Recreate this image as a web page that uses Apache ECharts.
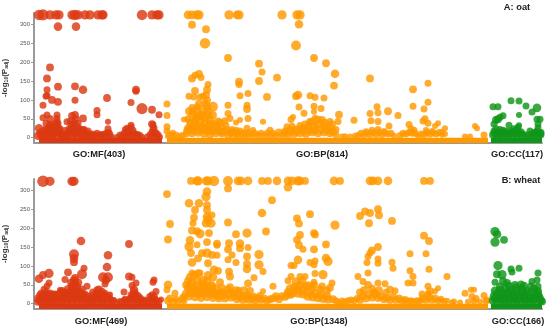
<!DOCTYPE html>
<html><head><meta charset="utf-8">
<style>html,body{margin:0;padding:0;background:#fff}#c{width:550px;height:331px}</style>
<script src="https://cdn.jsdelivr.net/npm/echarts@6/dist/echarts.min.js"></script></head>
<body><div id="c"></div>
<script>
// each point: [term rank along the axis, -log10(Padj), relative term size]
const yTicks=[0,50,100,150,200,250,300];
const oatLabels=['GO:MF(403)','GO:BP(814)','GO:CC(117)','A: oat'];
const wheatLabels=['GO:MF(469)','GO:BP(1348)','GO:CC(166)','B: wheat'];
const oatMF=[[39,325,9],[43,325,10],[50,325,7],[56,325,7],[59,325,7],[72,325,7],[75,325,9],[78,325,7],[85,325,7],[90,325,7],[98,325,7],[102,325,7],[103,325,7],[142,325,9],[152,325,7],[157,325,7],[159,325,7],
[58,294,6],[76,294,6],[50,186,5],[47,157,5],[58,135,5],[75,136,5],[83,127,6],[47,127,4],[47,112,4],[46,110,4],[52,100,5],[58,95,5],[75,99,4],[43,86,4],[107,105,5],[97,72,4],[97,61,4],[108,42,3],[136,127,5],[136,123,4],[131,93,4],[142,77,10],[152,74,5],[159,61,4],[152,36,5],[153,34,4],
[43,53,4],[47,60,4],[50,50,5],[57,60,4],[57,51,4],[72,58,5],[75,60,5],[83,51,5],[67,42,4],
[38,5,6],[42,3,4],[47,4,4],[52,5,4],[57,4,6],[62,3,4],[67,5,4],[72,4,4],[77,5,6],[82,3,4],[87,5,4],[92,3,4],[97,4,4],[102,3,4],[107,4,4],[112,2,3],[117,2,3],[122,4,4],[127,5,4],[132,4,4],[137,5,4],[142,2,3],[147,3,3],[152,5,4],[157,4,4],[160,2,3],
[40,14,4],[45,12,4],[50,15,6],[54,12,4],[58,14,6],[63,10,4],[68,14,4],[73,15,6],[78,13,4],[83,15,4],[87,12,4],[92,11,3],[97,12,4],[102,10,3],[106,12,4],[109,14,4],[124,12,4],[129,14,4],[134,12,4],[138,10,3],[152,15,4],[156,13,4],
[39,25,6],[46,24,4],[49,28,4],[52,26,4],[57,30,6],[60,24,4],[69,24,4],[73,28,4],[76,30,6],[80,24,4],[84,22,4],[108,24,4],[127,25,4],[131,28,4],[125,22,3],[153,22,4],
[46,38,4],[50,36,3],[55,38,4],[57,42,4],[74,40,4],[78,38,4],[71,35,4],[131,33,4],
[41,8,5],[45,8,5],[49,10,5],[53,8,5],[55,20,5],[59,20,5],[61,9,5],[65,8,5],[69,9,5],[71,20,5],[75,10,5],[79,20,5],[81,9,5],[85,9,5],[89,7,4],[94,8,4],[100,8,4],[104,7,4],[110,8,4],[120,7,4],[125,8,4],[130,8,4],[135,9,4],[140,6,4],[150,8,4],[155,9,4],[158,8,4],[43,18,5],[47,20,5],[51,22,5],[65,18,5],[75,22,5],[83,20,5],[88,18,4],[128,18,4],[133,20,4],[154,26,4],[50,32,5],[55,30,5],[71,44,5],[76,50,4],[58,38,4]];
const oatBP=[[188,325,6],[192,325,6],[197,325,7],[199,325,7],[229,325,7],[237,325,6],[239,325,7],[282,325,7],[297,325,7],[300,325,7],
[192,299,5],[206,287,5],[205,250,9],[299,300,6],[296,244,8],[228,211,5],[259,196,5],[262,174,4],[259,150,5],[277,159,5],[314,211,5],[326,197,5],[335,169,6],[334,138,5],[370,157,5],[428,144,4],[413,128,5],[428,94,4],[413,83,4],[424,76,4],[388,70,5],[398,59,4],[377,82,4],[378,66,4],[370,64,4],[371,45,4],[378,43,4],[389,31,4],[409,35,4],[425,50,4],[423,44,4],[428,38,4],[438,38,3],[435,31,3],[445,25,3],[442,16,3],[475,31,3],[477,25,3],[465,3,3],[470,3,3],[484,7,4],
[298,113,6],[296,110,5],[310,111,4],[315,107,4],[324,105,4],[299,81,4],[314,83,4],[321,77,4],[339,61,5],[354,46,4],[304,65,4],[293,55,3],[291,48,4],[314,69,3],[315,53,3],[310,42,5],[322,47,5],[330,43,4],[338,43,4],[287,29,4],
[167,89,4],[167,59,4],[167,29,4],[167,18,4],[173,13,3],[184,48,3],[192,157,5],[195,165,4],[199,169,5],[201,159,4],[208,141,4],[207,127,5],[206,113,5],[195,124,5],[189,110,4],[194,108,4],[200,108,4],[207,99,5],[192,80,4],[197,82,4],[213,82,8],[207,82,5],[202,72,5],[192,60,5],[197,55,5],[202,60,5],[208,60,5],[210,38,5],[218,43,5],[228,86,4],[228,64,4],[230,51,4],[239,148,5],[239,141,4],[240,111,4],[248,117,4],[247,86,4],[247,76,5],[248,51,4],[240,47,3],[236,40,3],[263,42,3],[247,25,4],[253,20,3],[270,20,4],[267,108,5],
[188,50,4],[190,40,5],[195,42,5],[200,45,5],[205,40,5],[212,30,5],[217,28,5],[192,28,5],[198,30,5],[204,25,5],[188,25,5],[208,18,5],[222,28,4],[226,32,4],[232,22,4],[236,20,4],[240,18,4],
[168,4,3],[174,4,3],[180,3,3],[186,10,4],[192,12,5],[198,13,5],[204,10,5],[210,8,5],[216,12,5],[222,10,4],[228,8,5],[234,6,5],[240,6,5],[246,8,5],[252,8,4],[258,6,4],[264,6,4],[270,6,4],[276,6,4],[282,8,4],[288,8,5],[294,10,5],[300,12,5],[306,10,5],[312,14,5],[318,12,5],[324,14,5],[330,12,5],[336,8,4],[342,3,3],[350,3,3],[358,6,4],[364,7,4],[370,8,4],[376,8,4],[382,8,4],[388,10,4],[394,5,3],[400,6,4],[406,10,4],[412,12,4],[418,5,3],[424,8,4],[430,9,4],[436,10,4],[442,8,3],
[285,18,4],[290,20,5],[296,22,5],[302,24,5],[308,28,6],[314,30,6],[318,36,5],[324,30,5],[330,26,5],[336,22,4],[292,30,4],[300,32,4],[372,20,4],[378,22,4],[366,16,4],[384,18,3],[411,24,4],[414,20,4],[426,20,3],[432,18,3],
[170,8,4],[176,7,4],[182,6,4],[187,18,5],[190,24,5],[193,20,6],[196,30,6],[199,20,6],[202,28,6],[205,20,6],[208,28,6],[211,20,6],[214,18,5],[218,20,5],[220,16,5],[224,16,5],[227,20,5],[230,14,5],[233,14,5],[237,12,5],[243,12,5],[249,12,5],[255,12,4],[261,12,4],[267,12,4],[273,12,4],[279,14,5],[285,12,5],[291,16,5],[297,16,6],[303,18,6],[309,20,6],[315,20,6],[321,22,6],[327,20,6],[333,16,5],[345,4,3],[355,5,3],[361,12,4],[367,12,4],[373,14,4],[379,14,4],[385,13,4],[391,12,4],[403,12,4],[409,14,4],[415,12,4],[421,10,4],[427,14,4],[433,14,4],[439,14,4],[445,10,3],[189,70,5],[193,70,5],[197,72,5],[199,90,5],[205,90,5],[208,70,5],[213,60,5],[203,110,4],[191,38,5],[196,50,6],[200,58,6],[205,52,6],[210,48,6],[215,35,5],[220,40,5],[225,45,4],[305,35,5],[312,42,6],[318,48,5],[325,40,5],[332,35,5]];
const oatCC=[[493,82,4],[498,82,4],[511,98,4],[519,97,4],[526,84,4],[537,79,6],[532,68,4],[519,60,3],[503,58,4],[500,54,4],[496,47,5],[498,49,5],[540,49,4],[537,49,4],[538,36,4],[494,36,4],[509,33,4],[519,33,3],[503,20,4],
[493,8,5],[497,5,5],[501,8,5],[505,6,5],[509,8,5],[513,5,5],[517,7,5],[521,7,5],[525,5,3],[530,4,3],[534,7,5],[538,5,5],[541,8,4],
[494,18,4],[498,14,4],[507,17,4],[512,18,4],[517,20,5],[521,16,4],[534,14,4],[537,18,4],[541,14,4],
[495,12,5],[499,10,5],[503,12,5],[507,11,5],[511,12,5],[515,12,5],[519,12,5],[523,10,4],[532,10,4],[536,11,5],[540,11,5],[496,24,4],[504,14,5],[500,22,4],[514,24,4],[518,28,4],[530,18,4],[538,26,4],[528,8,4]];
const wheatMF=[[43,324,11],[50,324,7],[72,324,7],[74,324,7],
[81,166,6],[129,158,5],[74,131,8],[74,120,6],[74,110,5],[108,128,6],[107,97,6],[84,94,4],[82,78,8],[68,83,5],[49,80,7],[43,76,5],[39,66,6],[65,64,4],[49,55,4],[47,46,4],[103,70,8],[108,70,8],[106,62,5],[105,52,4],[129,72,5],[132,70,4],[136,55,4],[132,48,4],[134,37,6],[124,31,4],[154,63,4],[153,57,4],[156,32,4],[161,11,3],[75,68,5],[75,55,5],[72,45,5],[87,46,4],[97,37,4],[102,33,4],
[38,5,5],[42,4,5],[47,5,6],[52,4,5],[57,6,5],[62,4,5],[67,6,6],[72,5,6],[77,6,6],[82,5,5],[87,5,5],[92,4,5],[97,6,5],[102,5,5],[107,6,5],[112,4,4],[117,3,3],[122,4,4],[127,5,4],[132,6,5],[137,6,5],[142,5,5],[147,3,4],[152,5,5],[157,5,4],
[38,14,5],[42,16,5],[47,14,6],[51,18,5],[55,16,5],[60,15,5],[65,17,6],[70,16,6],[75,18,6],[80,16,6],[85,14,5],[90,13,5],[95,16,5],[100,14,5],[105,16,5],[110,14,4],[114,10,3],[125,12,4],[130,14,4],[135,15,6],[140,14,5],[144,10,4],[152,14,5],[155,12,4],
[41,28,4],[46,30,5],[50,27,5],[55,26,4],[60,28,5],[64,30,5],[69,30,5],[72,34,6],[76,38,6],[80,30,6],[85,26,4],[96,28,4],[100,26,4],[105,28,4],[110,24,3],[131,24,4],[136,26,4],[152,24,4],
[44,38,4],[60,36,3],[71,56,5],[77,46,5],[74,32,5],
[40,9,6],[44,9,6],[49,10,6],[53,10,6],[58,10,6],[63,10,6],[68,11,6],[73,11,6],[78,12,6],[83,11,6],[88,10,6],[93,10,6],[98,11,6],[103,10,6],[108,10,5],[113,7,4],[120,6,4],[125,8,5],[130,10,5],[135,10,5],[140,9,5],[145,7,4],[150,9,5],[155,9,5],[159,6,4],[40,22,5],[44,24,5],[49,22,6],[53,24,5],[58,22,6],[62,22,6],[67,24,6],[72,24,6],[77,28,6],[82,24,6],[87,20,5],[92,20,5],[98,22,6],[103,22,6],[108,20,5],[133,20,5],[138,20,5],[150,18,5],[154,18,5],[68,38,6],[73,46,6],[78,56,6],[74,62,6],[82,38,5],[62,34,5],[93,30,5],[99,38,5],[134,30,5]];
const wheatBP=[[191,325,5],[197,325,6],[198,325,7],[206,325,6],[208,325,7],[214,325,9],[228,325,8],[238,325,6],[241,325,6],[248,325,6],[262,325,5],[268,325,5],[277,325,6],[288,325,6],[292,325,6],[298,325,7],[300,325,6],[305,325,5],[334,325,6],[340,325,5],[370,325,6],[373,325,6],[378,325,6],[388,325,6],[424,325,5],[430,325,5],
[167,290,5],[170,211,5],[168,170,5],[228,305,5],[207,297,6],[206,283,7],[189,266,6],[199,266,6],[207,261,5],[195,248,5],[207,248,5],[212,235,4],[194,228,5],[207,230,6],[193,213,4],[208,222,7],[206,213,6],[211,213,7],[192,194,5],[197,192,5],[200,185,7],[209,187,5],[228,215,5],[262,240,6],[272,274,5],[266,191,5],[247,187,7],[236,184,5],[190,168,6],[189,151,7],[197,156,4],[207,163,5],[217,159,5],[217,155,4],[191,134,5],[217,128,4],[229,160,5],[228,144,5],[240,159,6],[240,147,5],[248,149,4],[247,125,5],[259,130,7],[259,103,7],[232,129,4],[228,116,4],[236,109,4],[247,105,5],[247,92,6],[263,85,4],[229,85,5],[230,72,5],[254,69,4],[248,54,5],[239,37,3],[263,33,3],[273,46,4],[220,57,5],[202,134,5],[207,134,7],[212,129,5],[192,109,6],[198,120,5],[208,107,5],[218,87,5],[214,90,6],[192,81,4],[200,81,4],[168,50,6],[167,37,4],[175,28,4],[183,18,4],
[288,308,6],[310,237,5],[297,226,5],[299,212,5],[335,208,7],[300,182,5],[297,169,5],[299,155,5],[303,144,4],[314,187,5],[315,183,5],[326,157,5],[314,144,5],[298,116,6],[291,101,4],[294,101,4],[310,109,4],[315,113,4],[314,103,4],[326,121,6],[328,112,7],[315,80,4],[323,77,7],[291,72,4],[300,72,4],[305,72,4],[288,61,4],[314,57,4],[332,55,4],[360,232,5],[365,244,5],[370,240,5],[378,250,5],[379,234,5],[369,213,5],[392,219,5],[424,180,5],[429,166,5],[378,150,5],[372,141,5],[370,134,4],[368,125,4],[378,118,4],[378,107,4],[367,109,4],[392,110,4],[393,94,4],[410,132,4],[426,132,4],[429,91,4],[410,87,4],[413,72,4],[368,81,4],[358,72,4],[363,59,4],[447,72,4],[408,55,4],[413,55,4],[378,55,4],[385,53,4],[395,34,4],[390,37,5],[428,46,4],[430,33,5],[438,41,3],[435,33,3],[465,28,4],[471,37,3],[474,37,3],[472,19,4],[476,14,4],[484,22,4],[487,10,4],[454,6,3],
[188,60,5],[192,55,6],[197,62,6],[202,50,6],[207,60,6],[212,48,6],[188,42,6],[194,40,6],[200,36,6],[206,42,6],[212,34,6],[217,28,5],[222,30,5],[228,38,5],[233,30,5],[238,26,5],[243,22,4],[248,24,4],[254,20,4],[260,22,4],
[168,8,5],[173,6,4],[178,5,4],[184,8,4],[189,20,6],[195,18,6],[201,16,6],[207,18,6],[213,16,6],[219,14,5],[225,14,5],[231,16,5],[237,12,5],[243,10,5],[249,10,5],[255,8,5],[261,10,5],[267,8,5],[273,14,5],[279,12,5],[285,18,5],[291,24,5],[297,38,7],[303,36,7],[309,30,7],[315,28,6],[321,24,6],[327,20,6],[333,12,5],[339,4,3],[345,5,4],[351,10,4],[357,14,4],[363,20,5],[369,24,6],[375,26,6],[381,20,5],[387,16,5],[393,18,5],[399,14,5],[405,10,5],[411,8,4],[417,8,4],[423,14,5],[429,18,5],[435,14,5],[441,12,4],[447,8,3],[452,3,3],[460,3,3],[468,5,3],[474,7,4],[480,5,3],[486,7,4],
[288,30,6],[294,45,5],[300,50,5],[306,46,5],[312,40,5],[320,38,5],[327,35,5],[364,36,5],[372,40,5],[379,36,5],[386,30,4],[422,26,4],[428,26,4],
[170,14,5],[176,12,4],[182,12,4],[186,26,6],[190,30,6],[194,30,7],[198,28,7],[202,30,7],[206,30,7],[210,28,7],[214,26,6],[219,22,6],[224,24,6],[229,26,6],[234,22,6],[240,18,6],[246,16,6],[252,14,5],[258,15,5],[264,14,5],[270,12,5],[276,20,5],[282,20,5],[288,24,6],[293,30,7],[298,28,7],[303,26,7],[308,20,7],[313,18,7],[318,16,7],[323,14,7],[328,12,6],[336,8,4],[342,7,4],[348,8,4],[354,8,4],[360,10,5],[366,14,5],[372,16,5],[378,16,6],[384,12,5],[390,10,5],[396,10,5],[402,8,5],[408,7,4],[414,6,4],[420,8,4],[426,10,5],[432,10,5],[438,8,4],[444,6,4],[190,70,6],[194,75,6],[198,80,6],[203,62,6],[208,75,6],[213,70,6],[186,50,5],[192,44,7],[199,46,7],[205,46,7],[211,44,7],[216,40,6],[222,42,5],[230,44,5],[236,36,5],[244,36,5],[250,34,5],[290,40,6],[296,58,6],[302,60,6],[308,48,6],[314,50,5],[322,46,5],[330,42,5],[360,30,5],[368,50,5],[374,30,5]];
const wheatCC=[[495,191,7],[497,184,6],[495,163,7],[504,169,5],[498,101,7],[511,92,4],[512,84,4],[519,94,4],[497,78,5],[502,77,7],[538,81,4],[537,63,4],[532,59,4],[495,57,4],[507,55,5],[521,50,6],[538,46,4],[542,6,5],
[493,8,6],[497,6,6],[501,8,6],[505,6,6],[509,8,6],[513,6,6],[517,8,6],[521,6,6],[525,8,6],[529,6,6],[533,8,6],[537,6,6],[541,8,5],
[494,20,6],[499,22,6],[504,18,6],[509,24,6],[514,20,6],[519,24,6],[524,22,6],[530,18,5],[535,22,6],[539,20,5],
[495,34,6],[500,36,5],[505,40,5],[511,36,6],[516,42,6],[522,40,6],[527,34,5],[534,40,5],[538,34,5],
[495,14,6],[500,13,6],[505,12,6],[510,14,6],[515,13,6],[520,14,6],[525,14,6],[530,12,6],[535,14,6],[540,14,5],[497,28,5],[502,28,6],[507,30,6],[512,30,6],[517,32,6],[522,30,6],[527,28,5],[533,30,5],[538,28,5],[500,46,5],[509,48,5],[515,50,5],[524,48,5],[531,46,5],[503,60,5]];

const RED='#dc3912',ORANGE='#ff9900',GREEN='#109618';
const sizeOf=d=>3.5*Math.sqrt(d[2]);
function mk(data,color,from,to,i){
  return {type:'scatter',xAxisIndex:i,yAxisIndex:i,data,clip:false,symbolSize:sizeOf,
    itemStyle:{color,opacity:.82},silent:true,
    markArea:{silent:true,itemStyle:{color,opacity:1},data:[[{xAxis:from,yAxis:-14},{xAxis:to,yAxis:0}]]}};
}
function txt(t,x,y){return {type:'text',x,y,style:{text:t,font:'bold 9.3px "Liberation Sans", Arial, sans-serif',fill:'#222',align:'center',verticalAlign:'middle'}};}
const FF='Liberation Sans';
const axisY=i=>({gridIndex:i,type:'value',min:-14,max:330,
  name:'{a|-log}{b|10}{a|(P}{b|adj}{a|)}',nameLocation:'middle',nameRotate:90,nameGap:23,
  nameTextStyle:{rich:{a:{fontSize:8,fontWeight:'bold',fontFamily:FF,color:'#333'},b:{fontSize:5,fontWeight:'bold',fontFamily:FF,color:'#333',verticalAlign:'bottom'}}},
  axisLine:{show:true,onZero:false,lineStyle:{color:'#999',width:2}},
  axisTick:{show:true,length:3,customValues:yTicks,lineStyle:{color:'#999',width:1}},
  axisLabel:{customValues:yTicks,fontSize:6,margin:4,color:'#555',fontFamily:FF},
  splitLine:{show:false}});
const axisX=i=>({gridIndex:i,type:'value',min:34,max:542,
  axisLine:{show:true,onZero:false,lineStyle:{color:'#999',width:2}},axisTick:{show:false},axisLabel:{show:false},splitLine:{show:false}});
const chart=echarts.init(document.getElementById('c'),null,{renderer:'canvas'});
chart.setOption({animation:false,backgroundColor:'#fff',
  grid:[{left:34,top:13,width:508,height:130,outerBoundsMode:'none',containLabel:false},{left:34,top:179,width:508,height:130,outerBoundsMode:'none',containLabel:false}],
  xAxis:[axisX(0),axisX(1)],yAxis:[axisY(0),axisY(1)],
  series:[mk(oatMF,RED,39,162,0),mk(oatBP,ORANGE,167,488,0),mk(oatCC,GREEN,491,542,0),
          mk(wheatMF,RED,39,162,1),mk(wheatBP,ORANGE,167,488,1),mk(wheatCC,GREEN,491,542,1)],
  graphic:[txt(oatLabels[0],99,154),txt(oatLabels[1],322,154),txt(oatLabels[2],517,154),txt(oatLabels[3],517,7),
           txt(wheatLabels[0],101,321),txt(wheatLabels[1],319,321),txt(wheatLabels[2],518,321),txt(wheatLabels[3],521,180)]
});
</script></body></html>
